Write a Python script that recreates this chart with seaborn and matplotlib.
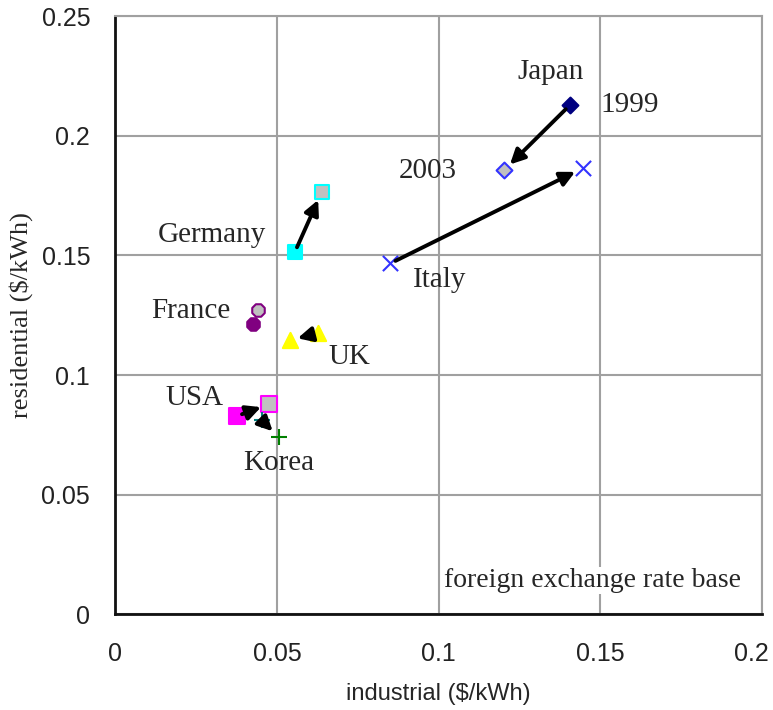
import pandas as pd
import matplotlib.pyplot as plt
import matplotlib.transforms as mtransforms
import seaborn as sns

# electricity prices, foreign exchange rate base ($/kWh)
countries = ["Japan", "Italy", "Germany", "France", "UK", "USA", "Korea"]
ind_1999 = [0.1405, 0.0851, 0.0555, 0.0425, 0.0626, 0.0376, 0.0453]
res_1999 = [0.2128, 0.1467, 0.1513, 0.1212, 0.1175, 0.0828, 0.0811]
ind_2003 = [0.1202, 0.1445, 0.0638, 0.0441, 0.0539, 0.0475, 0.0505]
res_2003 = [0.1856, 0.1865, 0.1764, 0.1271, 0.1145, 0.0878, 0.0740]
has_arrow = [True, True, True, False, True, True, True]

# marker styles per country: (marker, 1999 face, 1999 edge, 2003 face, 2003 edge, size)
styles = {
    "Japan":   ("D", "#000080", "#000080", "#c0c0c0", "#3333ff", 65),
    "Italy":   ("x", "#3333ff", "#3333ff", "#3333ff", "#3333ff", 120),
    "Germany": ("s", "#00ffff", "#00ffff", "#c0c0c0", "#00ffff", 115),
    "France":  ("8", "#800080", "#800080", "#c0c0c0", "#800080", 95),
    "UK":      ("^", "#ffff00", "#ffff00", "#ffff00", "#ffff00", 120),
    "USA":     ("s", "#ff00ff", "#ff00ff", "#c0c0c0", "#ff00ff", 130),
    "Korea":   ("+", "#008080", "#008080", "#008000", "#008000", 120),
}

# text labels (position in data coords)
labels = [
    ("Japan", 0.1347, 0.2266), ("1999", 0.1590, 0.2128), ("2003", 0.0965, 0.1852),
    ("Germany", 0.0300, 0.1584), ("France", 0.0235, 0.1267), ("UK", 0.0724, 0.1074),
    ("USA", 0.0245, 0.0903), ("Korea", 0.0505, 0.0631), ("Italy", 0.1002, 0.1396),
]

df = pd.DataFrame({
    "country": countries * 2,
    "year": [1999] * len(countries) + [2003] * len(countries),
    "industrial": ind_1999 + ind_2003,
    "residential": res_1999 + res_2003,
})

sns.set_theme(style="whitegrid")
plt.rcParams["font.family"] = ["Liberation Sans", "DejaVu Sans"]
serif = ["Liberation Serif", "DejaVu Serif"]

fig, ax = plt.subplots(figsize=(7.73, 7.10), dpi=100)
fig.subplots_adjust(left=0.149, right=0.986, bottom=0.135, top=0.977)

for c in countries:
    m, f99, e99, f03, e03, s = styles[c]
    for year, fc, ec in [(1999, f99, e99), (2003, f03, e03)]:
        sub = df[(df["country"] == c) & (df["year"] == year)]
        if m in ("x", "+"):
            sns.scatterplot(data=sub, x="industrial", y="residential", marker=m,
                            color=ec, s=s, linewidth=1.5, ax=ax, zorder=4)
        else:
            sns.scatterplot(data=sub, x="industrial", y="residential", marker=m,
                            color=fc, edgecolor=ec, s=s, linewidth=1.5, ax=ax, zorder=4)

# arrows 1999 -> 2003
for i, c in enumerate(countries):
    if not has_arrow[i]:
        continue
    ax.annotate("", xy=(ind_2003[i], res_2003[i]), xytext=(ind_1999[i], res_1999[i]),
                arrowprops=dict(arrowstyle="-|>", color="black", lw=2.8,
                                mutation_scale=22, shrinkA=4, shrinkB=6),
                zorder=5)

for txt, x, y in labels:
    ax.text(x, y, txt, ha="center", va="center", fontsize=21, family=serif, zorder=6)

ax.text(0.1476, 0.0142, "foreign exchange rate base", ha="center", va="center",
        fontsize=20, family=serif, zorder=6,
        bbox=dict(facecolor="white", edgecolor="none", pad=0.5))

ax.set_xlim(0, 0.2)
ax.set_ylim(0, 0.25)
ax.set_xticks([0, 0.05, 0.1, 0.15, 0.2])
ax.set_xticklabels(["0", "0.05", "0.1", "0.15", "0.2"])
ax.set_yticks([0, 0.05, 0.1, 0.15, 0.2, 0.25])
ax.set_yticklabels(["0", "0.05", "0.1", "0.15", "0.2", "0.25"])
ax.tick_params(axis="both", labelsize=18, length=0, colors="#222222")
ax.tick_params(axis="x", pad=20)
ax.tick_params(axis="y", pad=18)

# last x tick label sits a little to the left so it stays inside the figure
last = ax.get_xticklabels()[-1]
last.set_transform(last.get_transform() +
                   mtransforms.ScaledTranslation(-8 / 72, 0, fig.dpi_scale_trans))

ax.set_xlabel("industrial ($/kWh)", fontsize=17, labelpad=12)
ax.set_ylabel("residential ($/kWh)", fontsize=19, labelpad=6, family=serif)

ax.set_facecolor("white")
ax.grid(True, color="#a0a0a0", linewidth=1.5)
for side in ["left", "bottom"]:
    ax.spines[side].set_color("#111111")
    ax.spines[side].set_linewidth(2)
for side in ["top", "right"]:
    ax.spines[side].set_color("#a0a0a0")
    ax.spines[side].set_linewidth(1.5)

plt.savefig("out.png", dpi=100)
